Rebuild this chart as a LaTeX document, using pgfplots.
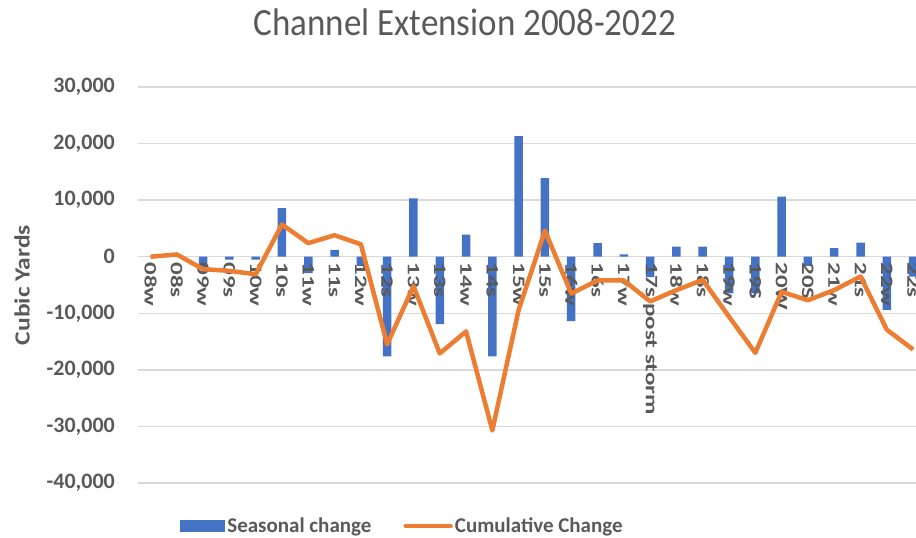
\documentclass[border=0pt]{standalone}
\usepackage{fontspec}
\setmainfont{Carlito}
\usepackage{pgfplots}
\usepackage{pgfplotstable}
\pgfplotsset{compat=1.18}
\definecolor{sblue}{HTML}{4472C4}
\definecolor{sorange}{HTML}{ED7D31}
\definecolor{tgray}{HTML}{595959}
\definecolor{ggray}{HTML}{D9D9D9}
\pgfplotstableread{
x chg cum
0 0 0
1 300 400
2 -2000 -2200
3 -500 -2500
4 -500 -3100
5 8600 5700
6 -2900 2400
7 1200 3800
8 -1600 2200
9 -17600 -15500
10 10300 -5200
11 -11900 -17100
12 3900 -13200
13 -17600 -30700
14 21300 -9400
15 13900 4600
16 -11400 -6500
17 2400 -4200
18 400 -4200
19 -3600 -7900
20 1800 -5900
21 1800 -4100
22 -6500 -10600
23 -6500 -17000
24 10600 -6200
25 -1600 -7700
26 1500 -5900
27 2500 -3500
28 -9400 -12900
29 -3500 -16400
}\datatable
\begin{document}
\begin{tikzpicture}
\begin{axis}[
  set layers=standard,
  scale only axis, width=778pt, height=396pt,
  xmin=-0.475, xmax=29.11, ymin=-40000, ymax=30000,
  axis x line=middle, axis y line=left,
  x axis line style={draw=none}, y axis line style={draw=none},
  hide obscured x ticks=false, hide obscured y ticks=false,
  major tick length=0pt,
  xtick={0,...,29},
  xticklabels={08w,08s,09w,09s,10w,10s,11w,11s,12w,12s,13w,13s,14w,14s,15w,15s,16w,16s,17w,17s post storm,18w,18s,19w,19S,20W,20S,21w,21s,22w,22s},
  xticklabel style={/pgfplots/on layer=axis descriptions, font=\fontsize{25}{28}\selectfont\bfseries, text=tgray, rotate=-90, yscale=0.7, anchor=west, inner xsep=5.5pt, inner ysep=0pt},
  ytick={-40000,-30000,...,30000},
  scaled y ticks=false,
  yticklabel style={font=\fontsize{22}{26}\selectfont\bfseries, text=tgray, inner sep=0pt, xshift=-23pt, anchor=east,
    /pgf/number format/.cd, 1000 sep={,}, fixed, assume math mode=true},
  ymajorgrids, grid style={ggray, line width=1.3pt},
  title={Channel Extension 2008-2022},
  title style={font=\fontsize{35}{40}\selectfont, text=tgray, at={(0.42,1.149)}, anchor=center, yscale=1.1},
  ylabel={Cubic Yards},
  ylabel style={font=\fontsize{25.5}{28}\selectfont\bfseries, text=tgray, at={(axis description cs:-0.149,0.5)}, anchor=center, yscale=0.85},
  legend columns=2,
  legend style={at={(0.34,-0.109)}, anchor=center, draw=none, fill=none,
    font=\fontsize{21}{24}\selectfont\bfseries, text=tgray,
    /tikz/every even column/.append style={column sep=30pt}},
]
\addplot[ybar, bar width=8.5pt, bar shift=0pt, fill=sblue, draw=none,
  legend image code/.code={\fill[sblue] (0pt,-6pt) rectangle (45pt,6pt);}]
  table[x=x, y=chg]{\datatable};
\addlegendentry{Seasonal change}
\addplot[sorange, line width=4.5pt, line join=round, no marks, on layer=axis foreground,
  legend image code/.code={\draw[sorange, line width=4.5pt, line cap=round] (0pt,0pt) -- (45pt,0pt);}]
  table[x=x, y=cum]{\datatable};
\addlegendentry{Cumulative Change}
\end{axis}
\pgfresetboundingbox
\path (-138pt,-55pt) rectangle (778pt,483pt);
\end{tikzpicture}
\end{document}
